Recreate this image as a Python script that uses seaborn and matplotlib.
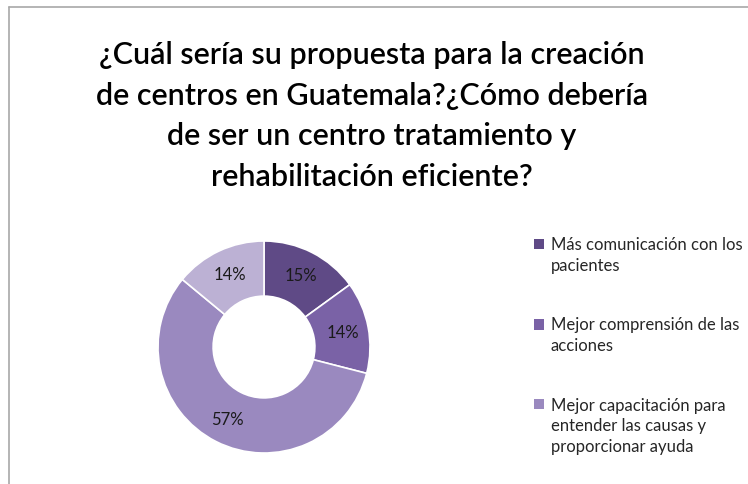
import matplotlib
matplotlib.use("Agg")
import matplotlib.pyplot as plt
import seaborn as sns
from matplotlib.lines import Line2D
from matplotlib.patches import Rectangle
from matplotlib.legend_handler import HandlerPatch

# data
labels = [
    "Más comunicación con los\npacientes",
    "Mejor comprensión de las\nacciones",
    "Mejor capacitación para\nentender las causas y\nproporcionar ayuda",
    "",
]
values = [15, 14, 57, 14]
colors = ["#5f4a86", "#7a62a6", "#9a89bf", "#bcb1d4"]
title = ("¿Cuál sería su propuesta para la creación\n"
         "de centros en Guatemala?¿Cómo debería\n"
         "de ser un centro tratamiento y\n"
         "rehabilitación eficiente?")

sns.set_theme(style="white")
plt.rcParams["font.family"] = ["Lato", "DejaVu Sans"]

W, H = 748, 485
fig = plt.figure(figsize=(W / 100, H / 100), dpi=100)
fig.patch.set_facecolor("white")

# frame lines (top and left)
fig.add_artist(Line2D([9 / W, 1], [1 - 8 / H, 1 - 8 / H], color="#a8a8a8", lw=1.2))
fig.add_artist(Line2D([9 / W, 9 / W], [0, 1 - 8 / H], color="#a8a8a8", lw=1.2))

fig.text(372 / W, 1 - 116 / H, title, ha="center", va="center",
         fontsize=22, linespacing=1.55, color="black", fontweight="semibold")

cx, cy, r = 264, 348, 106
ax = fig.add_axes([(cx - r) / W, (H - cy - r) / H, 2 * r / W, 2 * r / H])
wedges, texts, autotexts = ax.pie(
    values, colors=colors, startangle=90, counterclock=False,
    wedgeprops=dict(width=0.52, edgecolor="white", linewidth=1.2),
    autopct="%d%%", pctdistance=0.76,
    textprops=dict(fontsize=12, color="#1a1a1a"),
)
ax.set_xlim(-1, 1)
ax.set_ylim(-1, 1)
ax.set_aspect("equal")
ax.axis("off")


class TopSquare(HandlerPatch):
    # put the square next to the first line of a multi-line label
    def __init__(self, nlines, **kw):
        super().__init__(**kw)
        self.nlines = nlines

    def create_artists(self, legend, orig_handle, xdescent, ydescent,
                       width, height, fontsize, trans):
        shift = (self.nlines - 1) * 7.9
        p = Rectangle((-xdescent, -ydescent + shift), width, height,
                      facecolor=orig_handle.get_facecolor(), edgecolor="none",
                      transform=trans)
        return [p]


handler_map = {w: TopSquare(lab.count("\n") + 1) for w, lab in zip(wedges[:3], labels[:3])}
leg = fig.legend(wedges[:3], labels[:3], loc="upper left",
                 bbox_to_anchor=(519 / W, 1 - 222 / H), frameon=False,
                 fontsize=12, handlelength=0.6, handleheight=0.6,
                 handletextpad=0.4, labelspacing=2.6, handler_map=handler_map)
for t in leg.get_texts():
    t.set_linespacing(1.38)

fig.savefig("out.png", dpi=100)
